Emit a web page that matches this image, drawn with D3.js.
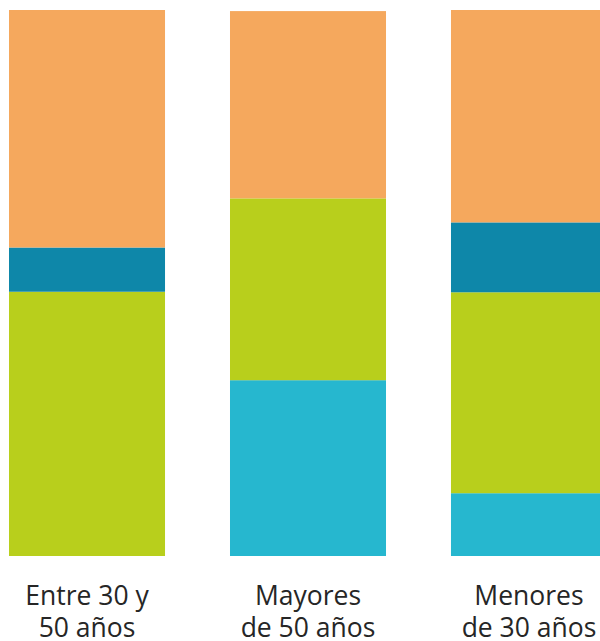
<!DOCTYPE html>
<html>
<head>
<meta charset="utf-8">
<script src="https://cdn.jsdelivr.net/npm/d3@7"></script>
<style>
  html, body { margin: 0; padding: 0; background: #fff; }
  svg { display: block; }
</style>
</head>
<body>
<svg id="chart" width="600" height="641"></svg>
<script>
const categories = ["Entre 30 y|50 años", "Mayores|de 50 años", "Menores|de 30 años"];
const seriesKeys = ["s1", "s2", "s3", "s4"]; // bottom to top
const s1 = [0, 32.2, 11.5];     // cyan
const s2 = [48.4, 33.3, 36.8];  // green
const s3 = [8.1, 0, 12.8];      // dark teal
const s4 = [43.5, 34.3, 38.9];  // orange
const colors = ["#26B7CF", "#B8CF1C", "#0E87A9", "#F5A85D"];

const data = categories.map((c, i) => ({ cat: c, s1: s1[i], s2: s2[i], s3: s3[i], s4: s4[i] }));
const stack = d3.stack().keys(seriesKeys)(data);

const svg = d3.select("#chart");
const x = d3.scaleBand().domain(categories).range([9, 607]).paddingInner(0.294).paddingOuter(0);
const y = d3.scaleLinear().domain([0, 100]).range([556, 10]);

svg.append("g").selectAll("g").data(stack).join("g")
  .attr("fill", (d, i) => colors[i])
  .selectAll("rect").data(d => d).join("rect")
  .attr("x", d => x(d.data.cat))
  .attr("width", x.bandwidth())
  .attr("y", d => y(d[1]))
  .attr("height", d => y(d[0]) - y(d[1]));

const labels = svg.append("g").selectAll("text").data(categories).join("text")
  .attr("x", d => x(d) + x.bandwidth() / 2)
  .attr("y", 605)
  .attr("text-anchor", "middle")
  .attr("font-family", "'Open Sans', sans-serif")
  .attr("font-size", 26.5)
  .attr("fill", "#262626");
labels.selectAll("tspan").data(d => d.split("|")).join("tspan")
  .attr("x", function() { return d3.select(this.parentNode).attr("x"); })
  .attr("dy", (d, i) => i === 0 ? 0 : 31.5)
  .text(d => d);
</script>
</body>
</html>
